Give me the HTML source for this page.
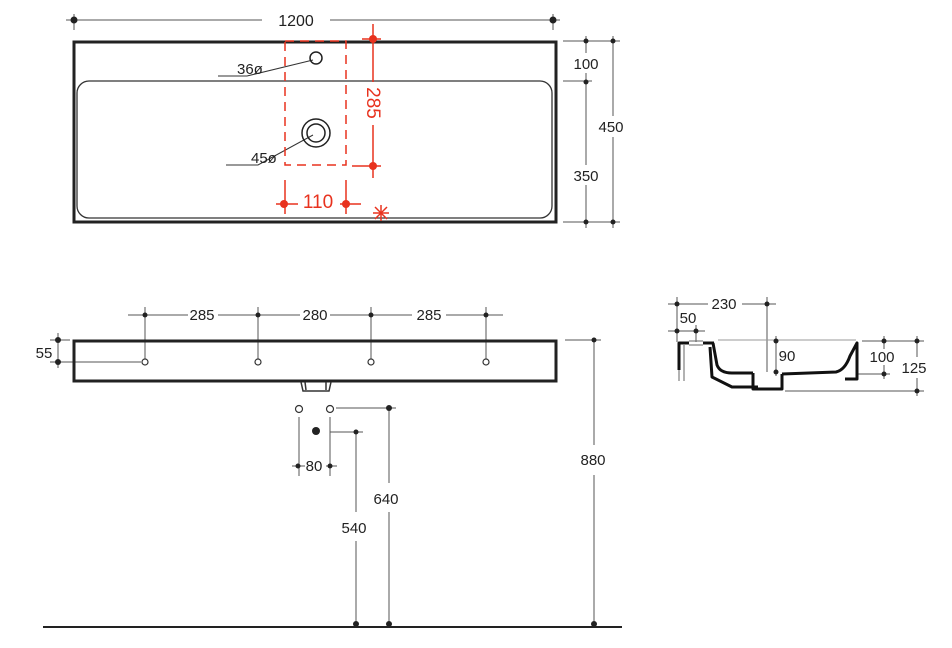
<!DOCTYPE html>
<html><head><meta charset="utf-8"><style>
html,body{margin:0;padding:0;background:#fff;}
svg{display:block;}
text{font-family:"Liberation Sans",sans-serif;font-size:15px;fill:#222;}
.r{fill:#e8321e;font-size:19px;}
</style></head><body>
<svg width="952" height="648" viewBox="0 0 952 648" xmlns="http://www.w3.org/2000/svg">
<g stroke="#555" stroke-width="1" fill="none">
<!-- top dims -->
<line x1="66" y1="20" x2="262" y2="20"/><line x1="330" y1="20" x2="560" y2="20"/>
<line x1="74" y1="14" x2="74" y2="30"/><line x1="553" y1="14" x2="553" y2="30"/>
<line x1="563" y1="41" x2="620" y2="41"/><line x1="563" y1="81" x2="592" y2="81"/><line x1="563" y1="222" x2="620" y2="222"/>
<line x1="586" y1="36" x2="586" y2="53"/><line x1="586" y1="73" x2="586" y2="165"/><line x1="586" y1="185" x2="586" y2="228"/>
<line x1="613" y1="36" x2="613" y2="116"/><line x1="613" y1="137" x2="613" y2="228"/>
<!-- leaders -->
<polyline points="218,76 247,76 313,60" stroke="#333"/>
<polyline points="226,165 258,165 313,135" stroke="#333"/>
<!-- front dims -->
<line x1="128" y1="315" x2="188" y2="315"/><line x1="218" y1="315" x2="300" y2="315"/>
<line x1="330" y1="315" x2="412" y2="315"/><line x1="446" y1="315" x2="503" y2="315"/>
<line x1="145" y1="307" x2="145" y2="359"/><line x1="258" y1="307" x2="258" y2="359"/>
<line x1="371" y1="307" x2="371" y2="359"/><line x1="486" y1="307" x2="486" y2="359"/>
<line x1="58" y1="333" x2="58" y2="368"/><line x1="50" y1="340" x2="70" y2="340"/><line x1="50" y1="362" x2="141" y2="362"/>
<line x1="565" y1="340" x2="601" y2="340"/>
<line x1="594" y1="340" x2="594" y2="445"/><line x1="594" y1="475" x2="594" y2="626"/>
<line x1="336" y1="408" x2="396" y2="408"/><line x1="330" y1="432" x2="363" y2="432"/>
<line x1="299" y1="417" x2="299" y2="476"/><line x1="330" y1="417" x2="330" y2="476"/>
<line x1="292" y1="466" x2="305" y2="466"/><line x1="326" y1="466" x2="337" y2="466"/>
<line x1="356" y1="432" x2="356" y2="512"/><line x1="356" y1="541" x2="356" y2="626"/>
<line x1="389" y1="408" x2="389" y2="483"/><line x1="389" y1="512" x2="389" y2="626"/>
<!-- side dims -->
<line x1="668" y1="304" x2="708" y2="304"/><line x1="742" y1="304" x2="776" y2="304"/>
<line x1="668" y1="331" x2="705" y2="331"/>
<line x1="677" y1="297" x2="677" y2="342"/><line x1="696" y1="325" x2="696" y2="342"/>
<line x1="767" y1="297" x2="767" y2="372"/>
<line x1="776" y1="336" x2="776" y2="376"/>
<line x1="862" y1="341" x2="924" y2="341"/><line x1="858" y1="374" x2="890" y2="374"/><line x1="785" y1="391" x2="924" y2="391"/>
<line x1="884" y1="336" x2="884" y2="349"/><line x1="884" y1="365" x2="884" y2="379"/>
<line x1="917" y1="336" x2="917" y2="357"/><line x1="917" y1="378" x2="917" y2="396"/>
<line x1="718" y1="340" x2="856" y2="340" stroke="#999"/>
</g>
<!-- dots -->
<g fill="#222">
<circle cx="74" cy="20" r="3.5"/><circle cx="553" cy="20" r="3.5"/>
<circle cx="586" cy="41" r="2.5"/><circle cx="586" cy="82" r="2.5"/><circle cx="586" cy="222" r="2.5"/>
<circle cx="613" cy="41" r="2.5"/><circle cx="613" cy="222" r="2.5"/>
<circle cx="145" cy="315" r="2.5"/><circle cx="258" cy="315" r="2.5"/><circle cx="371" cy="315" r="2.5"/><circle cx="486" cy="315" r="2.5"/>
<circle cx="58" cy="340" r="3"/><circle cx="58" cy="362" r="3"/>
<circle cx="594" cy="340" r="2.5"/>
<circle cx="389" cy="408" r="3"/><circle cx="356" cy="432" r="2.5"/><circle cx="316" cy="431" r="4"/>
<circle cx="298" cy="466" r="2.5"/><circle cx="330" cy="466" r="2.5"/>
<circle cx="356" cy="624" r="3"/><circle cx="389" cy="624" r="3"/><circle cx="594" cy="624" r="3"/>
<circle cx="677" cy="304" r="2.5"/><circle cx="767" cy="304" r="2.5"/>
<circle cx="677" cy="331" r="2.5"/><circle cx="696" cy="331" r="2.5"/>
<circle cx="776" cy="341" r="2.5"/><circle cx="776" cy="372" r="2.5"/>
<circle cx="884" cy="341" r="2.5"/><circle cx="884" cy="374" r="2.5"/>
<circle cx="917" cy="341" r="2.5"/><circle cx="917" cy="391" r="2.5"/>
</g>
<!-- top view -->
<rect x="74" y="42" width="482" height="180" fill="none" stroke="#222" stroke-width="3"/>
<rect x="77" y="81" width="475" height="137" rx="12" fill="none" stroke="#333" stroke-width="1.3"/>
<circle cx="316" cy="58" r="6" fill="none" stroke="#222" stroke-width="1.5"/>
<circle cx="316" cy="133" r="14" fill="none" stroke="#222" stroke-width="1.5"/>
<circle cx="316" cy="133" r="9" fill="none" stroke="#222" stroke-width="1.5"/>
<!-- red -->
<g stroke="#e8321e" stroke-width="1.5" fill="none">
<rect x="285" y="41" width="61" height="124" stroke-dasharray="9,6"/>
<line x1="373" y1="24" x2="373" y2="82"/><line x1="373" y1="125" x2="373" y2="178"/>
<line x1="362" y1="39" x2="381" y2="39"/><line x1="352" y1="166" x2="381" y2="166"/>
<line x1="285" y1="180" x2="285" y2="214"/><line x1="346" y1="180" x2="346" y2="214"/>
<line x1="276" y1="204" x2="298" y2="204"/><line x1="340" y1="204" x2="361" y2="204"/>
<line x1="375" y1="207" x2="387" y2="219"/><line x1="387" y1="207" x2="375" y2="219"/><line x1="381" y1="205" x2="381" y2="221"/><line x1="373" y1="213" x2="389" y2="213"/>
</g>
<g fill="#e8321e"><circle cx="373" cy="39" r="4"/><circle cx="373" cy="166" r="4"/><circle cx="284" cy="204" r="4"/><circle cx="346" cy="204" r="4"/></g>
<!-- front view -->
<rect x="74" y="341" width="482" height="40" fill="none" stroke="#222" stroke-width="3"/>
<g fill="#fff" stroke="#333" stroke-width="1.2">
<circle cx="145" cy="362" r="3"/><circle cx="258" cy="362" r="3"/><circle cx="371" cy="362" r="3"/><circle cx="486" cy="362" r="3"/>
<circle cx="299" cy="409" r="3.5"/><circle cx="330" cy="409" r="3.5"/>
</g>
<path d="M301 382 L303 391 L329 391 L331 382 M305 382 L306 390 M326 382 L326 390" fill="none" stroke="#333" stroke-width="1.5"/>
<line x1="43" y1="627" x2="622" y2="627" stroke="#222" stroke-width="2"/>
<!-- side view -->
<g fill="none" stroke="#111" stroke-width="3" stroke-linejoin="round">
<polyline points="689,343 679,343 679,370"/>
<polyline points="703,343 714,343"/>
<path d="M713 343 L717 365 Q720 373 732 373 L753 373"/>
<path d="M710 347 L712 377 L732 387 L758 387"/>
<path d="M782 374 L836 372 Q845 370 850 356 L857 343 L857 379 L845 379"/>
<path d="M753 373 L753 389 L782 389 L782 374"/>
</g>
<line x1="679" y1="370" x2="679" y2="381" stroke="#666" stroke-width="1"/>
<line x1="684" y1="345" x2="684" y2="381" stroke="#666" stroke-width="1"/>
<line x1="689" y1="341" x2="703" y2="341" stroke="#666" stroke-width="1"/>
<line x1="689" y1="345" x2="703" y2="345" stroke="#666" stroke-width="1"/>
<!-- text -->
<text x="296" y="26" text-anchor="middle" style="font-size:16px">1200</text>
<text x="586" y="69" text-anchor="middle">100</text>
<text x="586" y="181" text-anchor="middle">350</text>
<text x="611" y="132" text-anchor="middle">450</text>
<text x="237" y="74">36ø</text>
<text x="251" y="163">45ø</text>
<text class="r" x="318" y="208" text-anchor="middle">110</text>
<text class="r" transform="translate(367,103) rotate(90)" text-anchor="middle">285</text>
<text x="202" y="320" text-anchor="middle">285</text>
<text x="315" y="320" text-anchor="middle">280</text>
<text x="429" y="320" text-anchor="middle">285</text>
<text x="44" y="358" text-anchor="middle">55</text>
<text x="314" y="471" text-anchor="middle">80</text>
<text x="354" y="533" text-anchor="middle">540</text>
<text x="386" y="504" text-anchor="middle">640</text>
<text x="593" y="465" text-anchor="middle">880</text>
<text x="724" y="309" text-anchor="middle">230</text>
<text x="688" y="323" text-anchor="middle">50</text>
<text x="787" y="361" text-anchor="middle">90</text>
<text x="882" y="362" text-anchor="middle">100</text>
<text x="914" y="373" text-anchor="middle">125</text>
</g>
</svg>
</body></html>
